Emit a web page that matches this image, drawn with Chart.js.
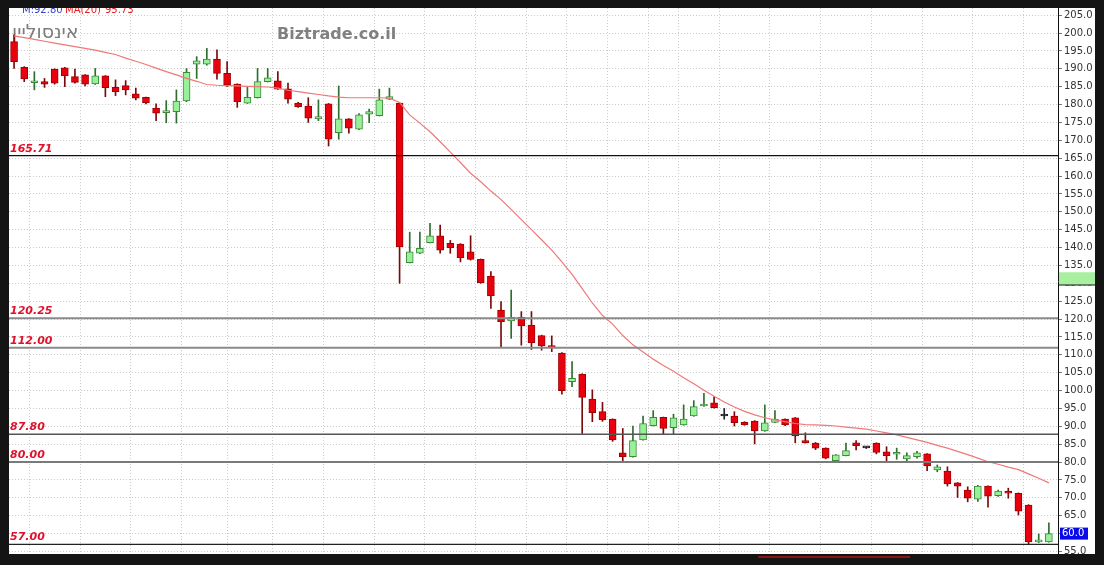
<!DOCTYPE html>
<html>
<head>
<meta charset="utf-8">
<script src="https://cdn.jsdelivr.net/npm/chart.js@4"></script>
<style>
  body { margin: 0; background: #141414; }
  canvas { display: block; }
</style>
</head>
<body>
<canvas id="myChart" width="1104" height="565"></canvas>
<script>
// daily candles
const opens  = [197.6,190.4,186.1,186.4,189.9,190.3,187.8,188.3,185.8,188.0,184.8,185.3,183.0,182.0,179.0,177.7,178.0,181.0,191.3,191.3,
                192.7,188.7,185.7,180.4,181.9,186.4,186.6,184.4,180.4,179.6,176.0,180.2,172.1,176.0,173.1,177.3,176.9,181.5,180.4,135.8,
                138.4,141.4,143.3,141.2,141.0,138.8,136.7,132.0,122.5,119.5,120.5,118.3,115.4,112.3,110.5,102.5,104.6,97.6,94.1,92.0,
                82.6,81.5,86.2,90.2,92.5,89.6,90.4,92.9,95.7,96.6,92.9,92.9,91.1,91.5,88.7,91.1,92.0,92.4,86.0,85.3,
                83.9,80.4,81.8,85.4,84.0,85.3,82.9,82.2,80.9,81.5,82.3,77.8,77.5,74.2,72.2,69.6,73.3,70.6,71.9,71.3,
                68.0,57.7,57.7];
const highs  = [199.5,190.6,189.2,187.3,190.0,190.4,189.9,188.4,190.1,188.1,186.9,186.7,184.6,182.1,180.2,181.1,184.1,190.1,193.4,195.7,
                195.3,192.0,185.8,184.8,190.1,190.1,189.2,186.0,180.6,181.9,181.3,180.3,185.2,176.1,177.5,178.7,184.3,184.6,180.5,144.3,
                144.3,146.8,146.3,142.0,141.1,143.3,136.8,133.3,124.9,128.1,122.1,122.1,115.5,115.3,110.6,108.1,104.7,100.2,96.7,92.1,
                89.4,90.1,92.9,94.4,92.6,93.4,96.0,97.2,99.2,98.3,95.0,94.1,91.3,91.6,96.0,94.4,92.1,92.5,88.2,85.5,
                84.0,82.1,85.3,86.0,84.3,85.4,84.3,83.9,82.6,83.0,82.4,79.2,78.7,74.3,73.1,73.5,73.4,72.2,72.7,71.4,
                68.1,59.9,63.0];
const lows   = [190.1,186.4,184.1,184.8,185.7,185.0,186.0,185.2,185.6,182.2,182.5,182.7,181.3,180.2,175.5,174.9,174.8,180.8,187.3,191.0,
                187.1,185.0,179.2,180.3,181.8,186.3,184.2,180.4,179.2,175.0,175.5,168.4,170.3,172.0,173.0,174.9,176.8,181.4,130.0,135.7,
                138.3,141.3,138.4,138.4,136.0,136.5,130.0,123.0,112.3,114.6,112.7,111.5,111.3,110.9,99.0,101.1,88.0,91.3,91.4,85.8,
                80.1,81.4,86.1,90.1,87.7,87.7,90.3,92.8,95.6,95.1,92.0,90.1,90.3,85.1,88.6,91.0,90.2,85.4,85.3,83.5,
                80.9,80.3,81.7,83.4,83.8,82.3,80.1,80.8,80.3,81.1,77.6,77.3,73.3,70.1,68.9,69.0,67.4,70.4,69.9,65.2,
                57.1,57.5,57.6];
const closes = [192.0,187.2,186.4,185.7,186.0,188.0,186.2,185.7,188.0,184.7,183.6,184.1,181.8,180.5,177.6,178.3,181.0,189.0,192.2,192.7,
                188.7,185.5,180.8,182.0,186.4,187.5,184.3,181.5,179.4,176.2,176.6,170.3,176.0,173.4,177.1,178.0,181.3,182.2,140.2,138.8,
                139.8,143.3,139.3,140.0,137.2,136.7,130.2,126.5,119.3,120.5,118.1,113.4,112.5,112.0,100.0,103.4,98.1,93.8,91.8,86.2,
                81.5,86.0,90.8,92.5,89.4,92.4,92.0,95.5,96.25,95.2,92.9,91.0,90.4,88.7,91.0,92.0,90.4,87.3,85.4,83.9,
                81.1,82.0,83.2,84.6,84.0,82.7,81.8,82.7,81.8,82.6,78.9,78.7,73.9,73.3,69.9,73.3,70.5,71.9,71.3,66.3,
                57.7,57.8,60.0];
// MA(20) line as drawn
const ma20   = [199.2,198.7,198.2,197.7,197.2,196.7,196.2,195.7,195.2,194.6,194.0,193.0,192.1,191.2,190.2,189.2,188.3,187.3,186.5,185.6,
                185.4,185.3,185.2,185.1,185.0,184.9,184.6,184.0,183.6,183.2,182.8,182.4,182.1,181.9,181.9,181.9,181.9,181.8,180.6,177.1,
                174.8,172.4,169.6,166.7,163.8,160.8,158.4,155.8,153.4,150.7,147.8,145.0,142.2,139.3,136.0,132.5,128.5,124.5,121.0,118.6,
                115.4,112.8,110.8,108.8,107.0,105.4,103.6,101.9,100.1,98.4,96.8,95.4,94.2,93.2,92.4,91.8,91.3,90.8,90.5,90.4,
                90.3,90.1,89.8,89.5,89.2,88.7,88.2,87.6,86.9,86.2,85.5,84.7,83.9,83.0,82.1,81.1,80.1,79.4,78.6,77.9,
                76.7,75.5,74.2];

const levels = [165.71, 120.25, 112.00, 87.80, 80.00, 57.00];
const levelColors = ['#111111', '#8a8a8a', '#8a8a8a', '#555555', '#7a7a7a', '#222222'];
const levelWidths = [1.2, 2, 2, 1.5, 2, 1.2];

const yTicks = [55,60,65,70,75,80,85,90,95,100,105,110,115,120,125,130,135,140,145,150,155,160,165,170,175,180,185,190,195,200,205];
const xGridAt = [4,9,14,19,23,28,33,38,43,48,53,56,61,64,67,72,77,82,87,92,97,102];
const markBox = [129.4, 133.1];
const xMin = -0.5, xMax = 102.9;

const RED = '#e8000e', RED_EDGE = '#a00000', RED_WICK = '#7a0a0a';
const GREEN = '#98f098', GREEN_EDGE = '#3a8a3a', GREEN_WICK = '#2e6e2e';

const kind = i => closes[i] > opens[i] ? 'up' : (closes[i] < opens[i] ? 'down' : 'flat');

const bodyData = opens.map((o, i) => ({x: i, y: [o, closes[i]]}));
const wickData = lows.map((l, i) => ({x: i, y: [l, highs[i]]}));
const maData = ma20.map((v, i) => ({x: i, y: v}));

const levelSets = levels.map((lv, k) => ({
  type: 'line',
  data: [{x: xMin, y: lv}, {x: xMax, y: lv}],
  borderColor: levelColors[k],
  borderWidth: levelWidths[k],
  pointRadius: 0,
  order: 1
}));

const frame = {
  id: 'frame',
  beforeDraw: (chart) => {
    const ctx = chart.ctx;
    ctx.save();
    ctx.fillStyle = '#141414';
    ctx.fillRect(0, 0, chart.width, chart.height);
    ctx.fillStyle = '#ffffff';
    ctx.fillRect(9, 8, 1095 - 9, 554 - 8);
    ctx.restore();
  },
  beforeDatasetsDraw: (chart) => {
    const ctx = chart.ctx;
    ctx.save();
    ctx.textBaseline = 'alphabetic';
    ctx.textAlign = 'left';
    ctx.fillStyle = '#7c7c7c';
    ctx.font = '19px "DejaVu Sans"';
    ctx.fillText('אינסוליין', 12, 38);
    ctx.fillStyle = '#808080';
    ctx.font = 'bold 16px "DejaVu Sans"';
    ctx.fillText('Biztrade.co.il', 277, 39);
    ctx.restore();
  },
  afterDraw: (chart) => {
    const ctx = chart.ctx;
    const y = chart.scales.y;
    const area = chart.chartArea;
    ctx.save();
    // level labels
    ctx.font = 'italic bold 11px "DejaVu Sans"';
    ctx.fillStyle = '#e0102a';
    ctx.textAlign = 'left';
    levels.forEach(lv => {
      ctx.fillText(lv.toFixed(2), 10, y.getPixelForValue(lv) - 4);
    });
    // header (cut by the frame)
    ctx.save();
    ctx.beginPath();
    ctx.rect(9, 8, 1086, 546);
    ctx.clip();
    ctx.font = '10px "DejaVu Sans"';
    ctx.fillStyle = '#3344cc';
    ctx.fillText('M:92.80', 22, 13);
    ctx.fillStyle = '#e02020';
    ctx.fillText('MA(20)', 65, 13);
    ctx.fillText('95.73', 105, 13);
    ctx.restore();
    // green marker on the axis
    const t = y.getPixelForValue(markBox[1]), b = y.getPixelForValue(markBox[0]);
    ctx.fillStyle = '#a8f0a0';
    ctx.fillRect(area.right + 1, t, 1095 - area.right - 1, b - t);
    ctx.fillStyle = '#222';
    ctx.fillRect(area.right + 1, b - 1, 1095 - area.right - 1, 1);
    // last price box
    const last = closes[closes.length - 1];
    const py = y.getPixelForValue(last);
    ctx.fillStyle = '#0a0ae8';
    ctx.fillRect(area.right + 2, py - 6, 28, 12);
    ctx.fillStyle = '#ffffff';
    ctx.font = '10px "DejaVu Sans"';
    ctx.textBaseline = 'middle';
    ctx.fillText(last.toFixed(1), area.right + 4, py);
    // scroll marker under the chart
    ctx.fillStyle = '#8a1414';
    ctx.fillRect(758, 556, 152, 2);
    ctx.restore();
  }
};

const config = {
  type: 'bar',
  data: {
    datasets: [
      ...levelSets,
      {
        type: 'line',
        data: maData,
        borderColor: '#f07878',
        borderWidth: 1.2,
        pointRadius: 0,
        tension: 0,
        order: 2
      },
      {
        data: bodyData,
        grouped: false,
        barThickness: 7,
        minBarLength: 2,
        borderSkipped: false,
        borderWidth: 1,
        backgroundColor: c => { const k = kind(c.dataIndex); return k === 'up' ? GREEN : (k === 'down' ? RED : '#222'); },
        borderColor: c => { const k = kind(c.dataIndex); return k === 'up' ? GREEN_EDGE : (k === 'down' ? RED_EDGE : '#222'); },
        order: 3
      },
      {
        data: wickData,
        grouped: false,
        barThickness: 1,
        borderWidth: 0,
        backgroundColor: c => { const k = kind(c.dataIndex); return k === 'up' ? GREEN_WICK : (k === 'down' ? RED_WICK : '#222'); },
        order: 4
      }
    ]
  },
  options: {
    responsive: false,
    animation: false,
    layout: { padding: { left: 9, top: 8, right: 9, bottom: 11 } },
    plugins: { legend: { display: false }, tooltip: { enabled: false } },
    scales: {
      x: {
        type: 'linear',
        min: xMin,
        max: xMax,
        offset: false,
        afterBuildTicks: s => { s.ticks = xGridAt.map(v => ({value: v})); },
        afterFit: s => { s.height = 0; },
        ticks: { display: false },
        grid: { color: '#cccccc', drawTicks: false },
        border: { display: false, dash: [1, 2] }
      },
      y: {
        position: 'right',
        min: 54.3,
        max: 207,
        afterBuildTicks: s => { s.ticks = yTicks.map(v => ({value: v})); },
        afterFit: s => { s.width = 37; },
        ticks: {
          callback: v => v.toFixed(1),
          font: { family: 'DejaVu Sans', size: 10 },
          color: '#333333',
          padding: 2
        },
        grid: { color: '#cccccc', tickLength: 4, tickColor: '#777777', tickBorderDash: [] },
        border: { display: true, color: '#111111', width: 1, dash: [1, 2] }
      }
    }
  },
  plugins: [frame]
};

const myChart = new Chart(document.getElementById('myChart').getContext('2d'), config);
</script>
</body>
</html>
